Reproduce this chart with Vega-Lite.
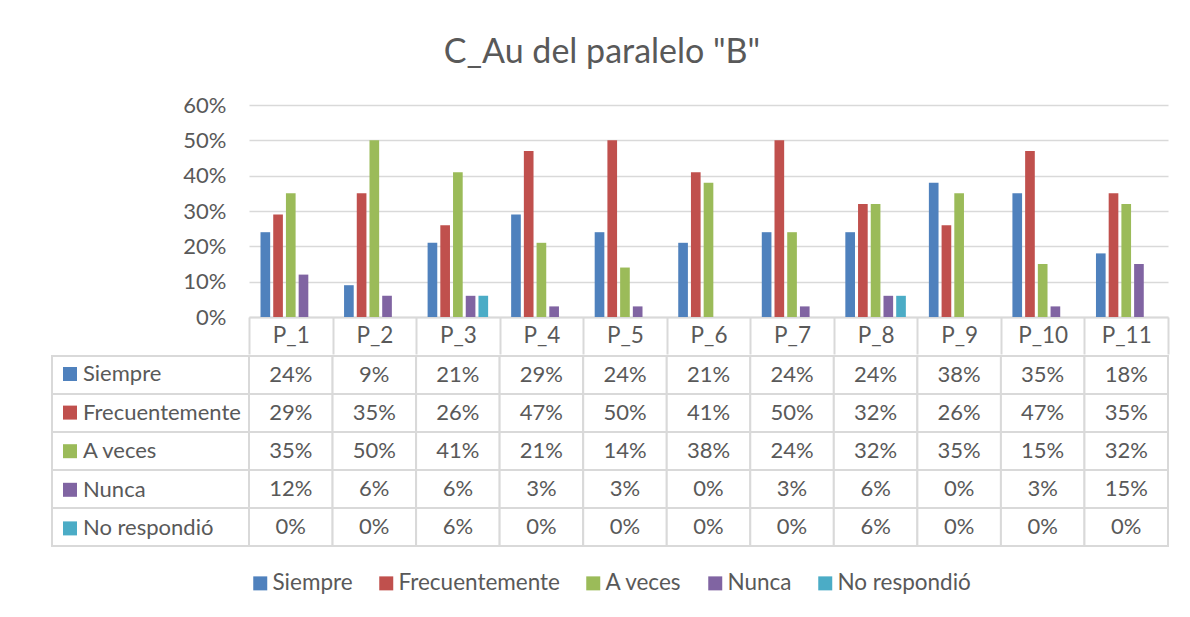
{
  "$schema": "https://vega.github.io/schema/vega-lite/v6.json",
  "background": "white",
  "padding": {"left": 51, "top": 36, "right": 20, "bottom": 10},
  "title": {"text": "C_Au del paralelo \"B\"", "fontSize": 34, "font": "Lato", "fontWeight": "normal", "color": "#595959", "anchor": "middle", "offset": 24, "dx": -8},
  "datasets": {
    "d": [
      {"q": "P_1", "s": "Siempre", "v": 0.24}, {"q": "P_2", "s": "Siempre", "v": 0.09}, {"q": "P_3", "s": "Siempre", "v": 0.21}, {"q": "P_4", "s": "Siempre", "v": 0.29}, {"q": "P_5", "s": "Siempre", "v": 0.24}, {"q": "P_6", "s": "Siempre", "v": 0.21}, {"q": "P_7", "s": "Siempre", "v": 0.24}, {"q": "P_8", "s": "Siempre", "v": 0.24}, {"q": "P_9", "s": "Siempre", "v": 0.38}, {"q": "P_10", "s": "Siempre", "v": 0.35}, {"q": "P_11", "s": "Siempre", "v": 0.18},
      {"q": "P_1", "s": "Frecuentemente", "v": 0.29}, {"q": "P_2", "s": "Frecuentemente", "v": 0.35}, {"q": "P_3", "s": "Frecuentemente", "v": 0.26}, {"q": "P_4", "s": "Frecuentemente", "v": 0.47}, {"q": "P_5", "s": "Frecuentemente", "v": 0.50}, {"q": "P_6", "s": "Frecuentemente", "v": 0.41}, {"q": "P_7", "s": "Frecuentemente", "v": 0.50}, {"q": "P_8", "s": "Frecuentemente", "v": 0.32}, {"q": "P_9", "s": "Frecuentemente", "v": 0.26}, {"q": "P_10", "s": "Frecuentemente", "v": 0.47}, {"q": "P_11", "s": "Frecuentemente", "v": 0.35},
      {"q": "P_1", "s": "A veces", "v": 0.35}, {"q": "P_2", "s": "A veces", "v": 0.50}, {"q": "P_3", "s": "A veces", "v": 0.41}, {"q": "P_4", "s": "A veces", "v": 0.21}, {"q": "P_5", "s": "A veces", "v": 0.14}, {"q": "P_6", "s": "A veces", "v": 0.38}, {"q": "P_7", "s": "A veces", "v": 0.24}, {"q": "P_8", "s": "A veces", "v": 0.32}, {"q": "P_9", "s": "A veces", "v": 0.35}, {"q": "P_10", "s": "A veces", "v": 0.15}, {"q": "P_11", "s": "A veces", "v": 0.32},
      {"q": "P_1", "s": "Nunca", "v": 0.12}, {"q": "P_2", "s": "Nunca", "v": 0.06}, {"q": "P_3", "s": "Nunca", "v": 0.06}, {"q": "P_4", "s": "Nunca", "v": 0.03}, {"q": "P_5", "s": "Nunca", "v": 0.03}, {"q": "P_6", "s": "Nunca", "v": 0.0}, {"q": "P_7", "s": "Nunca", "v": 0.03}, {"q": "P_8", "s": "Nunca", "v": 0.06}, {"q": "P_9", "s": "Nunca", "v": 0.0}, {"q": "P_10", "s": "Nunca", "v": 0.03}, {"q": "P_11", "s": "Nunca", "v": 0.15},
      {"q": "P_1", "s": "No respondió", "v": 0.0}, {"q": "P_2", "s": "No respondió", "v": 0.0}, {"q": "P_3", "s": "No respondió", "v": 0.06}, {"q": "P_4", "s": "No respondió", "v": 0.0}, {"q": "P_5", "s": "No respondió", "v": 0.0}, {"q": "P_6", "s": "No respondió", "v": 0.0}, {"q": "P_7", "s": "No respondió", "v": 0.0}, {"q": "P_8", "s": "No respondió", "v": 0.06}, {"q": "P_9", "s": "No respondió", "v": 0.0}, {"q": "P_10", "s": "No respondió", "v": 0.0}, {"q": "P_11", "s": "No respondió", "v": 0.0}
    ]
  },
  "spacing": 0,
  "bounds": "full",
  "resolve": {"scale": {"fill": "independent"}, "legend": {"fill": "independent"}},
  "vconcat": [
    {
      "spacing": 0,
      "bounds": "flush",
      "hconcat": [
        {"width": 197, "height": 212, "data": {"values": []}, "mark": "point"},
        {
          "width": 919,
          "height": 212,
          "data": {"name": "d"},
          "mark": {"type": "bar"},
          "encoding": {
            "x": {"field": "q", "type": "nominal", "sort": ["P_1", "P_2", "P_3", "P_4", "P_5", "P_6", "P_7", "P_8", "P_9", "P_10", "P_11"], "scale": {"paddingInner": 0, "paddingOuter": 0},
              "axis": {"title": null, "grid": false, "domain": true, "domainColor": "#D9D9D9", "domainWidth": 2, "ticks": true, "tickBand": "extent", "tickSize": 37, "tickColor": "#D9D9D9", "tickWidth": 2, "labelPadding": -19, "labelBaseline": "middle", "labelAngle": 0, "labelFontSize": 22.5, "labelFont": "Lato", "labelColor": "#595959"}},
            "xOffset": {"field": "s", "type": "nominal", "sort": ["Siempre", "Frecuentemente", "A veces", "Nunca", "No respondió"], "scale": {"paddingInner": 0.24, "paddingOuter": 0.905}},
            "y": {"field": "v", "type": "quantitative", "scale": {"domain": [0, 0.6], "nice": false},
              "axis": {"values": [0, 0.1, 0.2, 0.3, 0.4, 0.5, 0.6], "format": ".0%", "title": null, "domain": false, "ticks": false, "grid": true, "gridColor": "#D9D9D9", "gridWidth": 1.3, "labelPadding": 23, "labelFontSize": 22, "labelFont": "Lato", "labelColor": "#595959"}},
            "color": {"field": "s", "type": "nominal", "sort": ["Siempre", "Frecuentemente", "A veces", "Nunca", "No respondió"],
              "scale": {"domain": ["Siempre", "Frecuentemente", "A veces", "Nunca", "No respondió"], "range": ["#4F81BD", "#C0504D", "#9BBB59", "#8064A2", "#4BACC6"]},
              "legend": {"orient": "bottom", "direction": "horizontal", "title": null, "symbolType": "square", "symbolSize": 196, "symbolStrokeWidth": 0, "labelFontSize": 22.5, "labelFont": "Lato", "labelColor": "#595959", "labelOffset": 1, "columnPadding": 22, "labelLimit": 400, "offset": 25}}
          }
        }
      ]
    },
    {
      "spacing": 0,
      "bounds": "flush",
      "resolve": {"scale": {"fill": "independent"}, "legend": {"fill": "independent"}},
      "hconcat": [
        {
          "width": 197,
          "height": 190,
          "data": {"name": "d"},
          "transform": [{"filter": "datum.q === 'P_1'"}],
          "encoding": {
            "y": {"field": "s", "type": "nominal", "sort": ["Siempre", "Frecuentemente", "A veces", "Nunca", "No respondió"], "scale": {"padding": 0}, "axis": null}
          },
          "layer": [
            {"mark": {"type": "point", "shape": "square", "filled": true, "opacity": 1},
              "encoding": {"fill": {"field": "s", "type": "nominal", "sort": ["Siempre", "Frecuentemente", "A veces", "Nunca", "No respondió"],
                "scale": {"domain": ["Siempre", "Frecuentemente", "A veces", "Nunca", "No respondió"], "range": ["#4F81BD", "#C0504D", "#9BBB59", "#8064A2", "#4BACC6"]},
                "legend": {"orient": "top-left", "offset": 7, "padding": 0, "title": null, "direction": "vertical", "symbolType": "square", "symbolSize": 196, "symbolStrokeWidth": 0, "symbolOpacity": 1, "labelFontSize": 22, "labelFont": "Lato", "labelColor": "#595959", "labelOffset": 2, "rowPadding": 16.6, "labelLimit": 400}}}},
            {"mark": {"type": "rect", "fill": "white", "stroke": "#D9D9D9", "strokeWidth": 2}}
          ]
        },
        {
          "width": 919,
          "height": 190,
          "data": {"name": "d"},
          "encoding": {
            "x": {"field": "q", "type": "nominal", "sort": ["P_1", "P_2", "P_3", "P_4", "P_5", "P_6", "P_7", "P_8", "P_9", "P_10", "P_11"], "scale": {"padding": 0}, "axis": null},
            "y": {"field": "s", "type": "nominal", "sort": ["Siempre", "Frecuentemente", "A veces", "Nunca", "No respondió"], "scale": {"padding": 0}, "axis": null}
          },
          "layer": [
            {"mark": {"type": "rect", "fill": "white", "stroke": "#D9D9D9", "strokeWidth": 2}},
            {"mark": {"type": "text", "fontSize": 22, "font": "Lato", "color": "#595959"}, "encoding": {"text": {"field": "v", "type": "quantitative", "format": ".0%"}}}
          ]
        }
      ]
    }
  ],
  "config": {
    "view": {"stroke": null},
    "legend": {"layout": {"bottom": {"anchor": "middle"}}}
  }
}
